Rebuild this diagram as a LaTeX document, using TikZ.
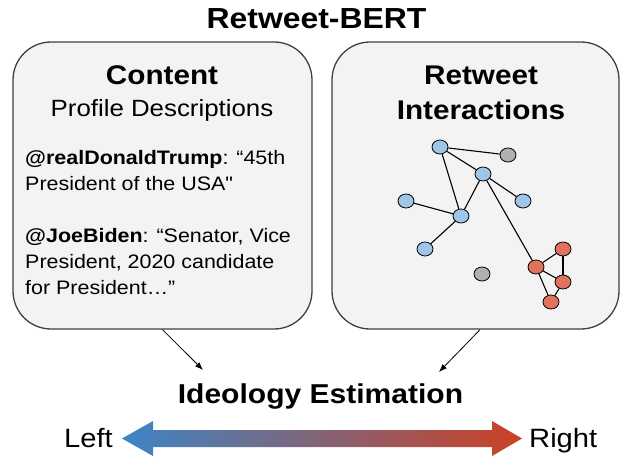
\documentclass[tikz,border=0pt]{standalone}
\usepackage{fontspec}
\setmainfont{Liberation Sans}[FakeStretch=1.1]
\newfontfamily\bodyfont{Liberation Sans}[FakeStretch=1.1]
\usetikzlibrary{arrows.meta,shapes.geometric}

\definecolor{boxfill}{HTML}{F3F3F3}
\definecolor{boxline}{HTML}{404040}
\definecolor{libblue}{HTML}{9FC5E8}
\definecolor{conred}{HTML}{E0735D}
\definecolor{nogray}{HTML}{B0B0B0}
\definecolor{leftblue}{HTML}{3D85C6}
\definecolor{rightred}{HTML}{CC4125}

\begin{document}
\begin{tikzpicture}[x=1pt,y=-1pt,
    panel/.style={draw=boxline, line width=1.3pt, fill=boxfill, rounded corners=38pt, inner sep=0pt},
    user/.style={ellipse, draw=black, line width=0.8pt, minimum width=16pt, minimum height=14pt, inner sep=0pt},
    lib/.style={user, fill=libblue},
    con/.style={user, fill=conred},
    idle/.style={user, fill=nogray},
    link/.style={line width=1.1pt},
    feed/.style={-{Latex[length=8pt,width=6pt]}, line width=0.8pt},
    lbl/.style={inner sep=0pt, anchor=base}]
            \useasboundingbox (0,0) rectangle (621,457);

            % two input panels
            \node[panel, minimum width=299pt, minimum height=287pt] (content) at (162.5,185.5) {};
            \node[panel, minimum width=287pt, minimum height=287pt] (retweet) at (475.5,185.5) {};

            \node[lbl, font=\fontsize{29}{34}\selectfont\bfseries] (title) at (316.5,29) {Retweet-BERT};
            \node[lbl, font=\fontsize{27}{34}\selectfont\bfseries] (chead) at (162,85) {Content};
            \node[lbl, font=\fontsize{23.5}{28}\selectfont] (csub) at (162,117) {Profile Descriptions};
            % base of a multi-line node is its last line
            \node[lbl, font=\fontsize{27}{35}\selectfont\bfseries, align=center] (rhead) at (481,120) {Retweet\\Interactions};

            \node[lbl, anchor=base west, align=left, font=\bodyfont\fontsize{19.5}{26}\selectfont] (bios) at (25,294)
                {\textbf{@realDonaldTrump}: “45th\\President of the USA"\\[26pt]\textbf{@JoeBiden}: “Senator, Vice\\President, 2020 candidate\\for President…”};

            % retweet graph
            \node[lib] (u1) at (440,147) {};
            \node[idle] (g1) at (508,155) {};
            \node[lib] (u2) at (483,174) {};
            \node[lib] (u3) at (406,201) {};
            \node[lib] (u4) at (523,201) {};
            \node[lib] (u5) at (461,216) {};
            \node[lib] (u6) at (425,249) {};
            \node[idle] (g2) at (482,274) {};
            \node[con] (r1) at (536,267) {};
            \node[con] (r2) at (563,249) {};
            \node[con] (r3) at (563,282) {};
            \node[con] (r4) at (551,302) {};

            \draw[link] (u1) -- (g1);
            \draw[link] (u1) -- (u2);
            \draw[link] (u1) -- (u5);
            \draw[link] (u2) -- (u5);
            \draw[link] (u2) -- (u4);
            \draw[link] (u2) -- (r1);
            \draw[link] (u3) -- (u5);
            \draw[link] (u5) -- (u6);
            \draw[link] (r1) -- (r2);
            \draw[link] (r1) -- (r3);
            \draw[link] (r2) -- (r3);
            \draw[link] (r1) -- (r4);
            \draw[link] (r3) -- (r4);

            % output
            \node[lbl, font=\fontsize{27.3}{32}\selectfont\bfseries] (ideo) at (320.5,403) {Ideology Estimation};
            \coordinate (lhit) at (203,370);
            \coordinate (rhit) at (439,372);
            \draw[feed] (content.south) -- (lhit);
            \draw[feed] ([xshift=4.5pt]retweet.south) -- (rhit);

            \shade[left color=leftblue, right color=rightred] (122,438.5) -- (153,421) -- (153,430) -- (492,430)
                -- (492,421) -- (522,438.5) -- (492,456) -- (492,447) -- (153,447) -- (153,456) -- cycle;
            \node[lbl, anchor=base east, font=\fontsize{26.5}{30}\selectfont] (left) at (113,447) {Left};
            \node[lbl, anchor=base west, font=\fontsize{26.5}{30}\selectfont] (right) at (529,447) {Right};
        \end{tikzpicture}
\end{document}
